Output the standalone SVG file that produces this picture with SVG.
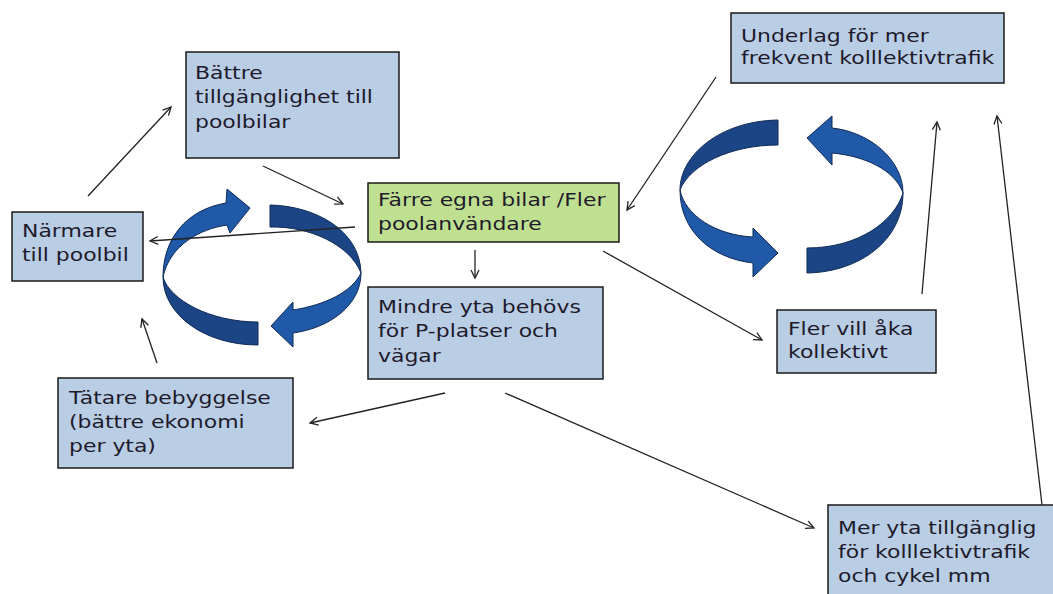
<svg xmlns="http://www.w3.org/2000/svg" width="1053" height="594" viewBox="0 0 1053 594">
<style>
.box{fill:#B9CDE5;stroke:#1a1a1a;stroke-width:1.5}
.green{fill:#C0E091;stroke:#1a1a1a;stroke-width:1.5}
.t{font-family:"DejaVu Sans","Liberation Sans",sans-serif;font-size:17px;fill:#1e1a2a}
.lt{fill:#2159A9;stroke:#0f2a55;stroke-width:1}
.dk{fill:#1B4585;stroke:#0f2a55;stroke-width:1}
.c{stroke:#222;stroke-width:1.3;fill:none;marker-end:url(#ah)}
</style>
<defs>
<marker id="ah" markerWidth="12" markerHeight="12" refX="9" refY="5" orient="auto" markerUnits="userSpaceOnUse">
<path d="M1,1 L9,5 L1,9" fill="none" stroke="#222" stroke-width="1.3"/>
</marker>
</defs>
<rect width="1053" height="594" fill="#fff"/>

<g id="cycle-left">
<path class="dk" d="M258,345 C205,345 163,315 163,277 C170,300 210,322 258,322 Z"/>
<path class="dk" d="M270,205 C315,206 360,230 361,273 C350,245 310,226 270,227 Z"/>
<path class="lt" d="M163,277 C163,240 185,210 226,203 L227,189 L250,208 L230,233 L227,225 C200,229 170,245 163,277 Z"/>
<path class="lt" d="M361,273 C361,305 330,328 293,333 L293,347 L271,326 L293,302 L293,310 C325,305 352,292 361,273 Z"/>
</g>
<g id="cycle-right">
<path class="dk" d="M778,120 C720,121 680,155 680,190 C690,165 730,145 778,145 Z"/>
<path class="dk" d="M807,273 C860,272 903,240 903,193 C895,220 860,248 807,248 Z"/>
<path class="lt" d="M680,190 C680,230 710,258 753,263 L753,277 L778,253 L753,228 L753,237 C715,235 685,215 680,190 Z"/>
<path class="lt" d="M903,193 C903,160 870,132 832,128 L832,116 L807,138 L832,165 L832,153 C865,156 895,170 903,193 Z"/>
</g>

<g id="battre">
<rect class="box" x="186" y="52" width="213" height="106"/>
<text class="t" transform="translate(195,79) scale(1.29,1)"><tspan x="0" y="0">Bättre</tspan><tspan x="0" y="24.5">tillgänglighet till</tspan><tspan x="0" y="49">poolbilar</tspan></text>
</g>
<g id="narmare">
<rect class="box" x="12" y="212" width="131" height="69"/>
<text class="t" transform="translate(22,237) scale(1.29,1)"><tspan x="0" y="0">Närmare</tspan><tspan x="0" y="24.5">till poolbil</tspan></text>
</g>
<g id="farre">
<rect class="green" x="368" y="183" width="251" height="59"/>
<text class="t" transform="translate(378,206) scale(1.29,1)"><tspan x="0" y="0">Färre egna bilar /Fler</tspan><tspan x="0" y="24.5">poolanvändare</tspan></text>
</g>
<g id="mindre">
<rect class="box" x="368" y="287" width="235" height="92"/>
<text class="t" transform="translate(378,312.5) scale(1.29,1)"><tspan x="0" y="0">Mindre yta behövs</tspan><tspan x="0" y="25">för P-platser och</tspan><tspan x="0" y="50">vägar</tspan></text>
</g>
<g id="underlag">
<rect class="box" x="731" y="13" width="273" height="70"/>
<text class="t" transform="translate(741,41.5) scale(1.29,1)"><tspan x="0" y="0">Underlag för mer</tspan><tspan x="0" y="23">frekvent kolllektivtrafik</tspan></text>
</g>
<g id="fler">
<rect class="box" x="777" y="310" width="159" height="63"/>
<text class="t" transform="translate(788,335) scale(1.29,1)"><tspan x="0" y="0">Fler vill åka</tspan><tspan x="0" y="23.5">kollektivt</tspan></text>
</g>
<g id="tatare">
<rect class="box" x="58" y="378" width="235" height="90"/>
<text class="t" transform="translate(69,403.5) scale(1.29,1)"><tspan x="0" y="0">Tätare bebyggelse</tspan><tspan x="0" y="24.2">(bättre ekonomi</tspan><tspan x="0" y="48.4">per yta)</tspan></text>
</g>
<g id="meryta">
<rect class="box" x="828" y="505" width="240" height="100"/>
<text class="t" transform="translate(838,533.5) scale(1.29,1)"><tspan x="0" y="0">Mer yta tillgänglig</tspan><tspan x="0" y="24.2">för kolllektivtrafik</tspan><tspan x="0" y="48.4">och cykel mm</tspan></text>
</g>

<g id="connectors">
<line class="c" x1="88" y1="196" x2="171" y2="107"/>
<line class="c" x1="263" y1="166" x2="343" y2="204"/>
<line class="c" x1="355" y1="227" x2="150" y2="241"/>
<line class="c" x1="475" y1="250" x2="475" y2="278"/>
<line class="c" x1="716" y1="77" x2="627" y2="210"/>
<line class="c" x1="603" y1="251" x2="762" y2="340"/>
<line class="c" x1="922" y1="294" x2="937" y2="122"/>
<line class="c" x1="1042" y1="505" x2="997" y2="116"/>
<line class="c" x1="445" y1="393" x2="310" y2="423"/>
<line class="c" x1="505" y1="393" x2="814" y2="528"/>
<line class="c" x1="157" y1="363" x2="142" y2="319"/>
</g>
</svg>
